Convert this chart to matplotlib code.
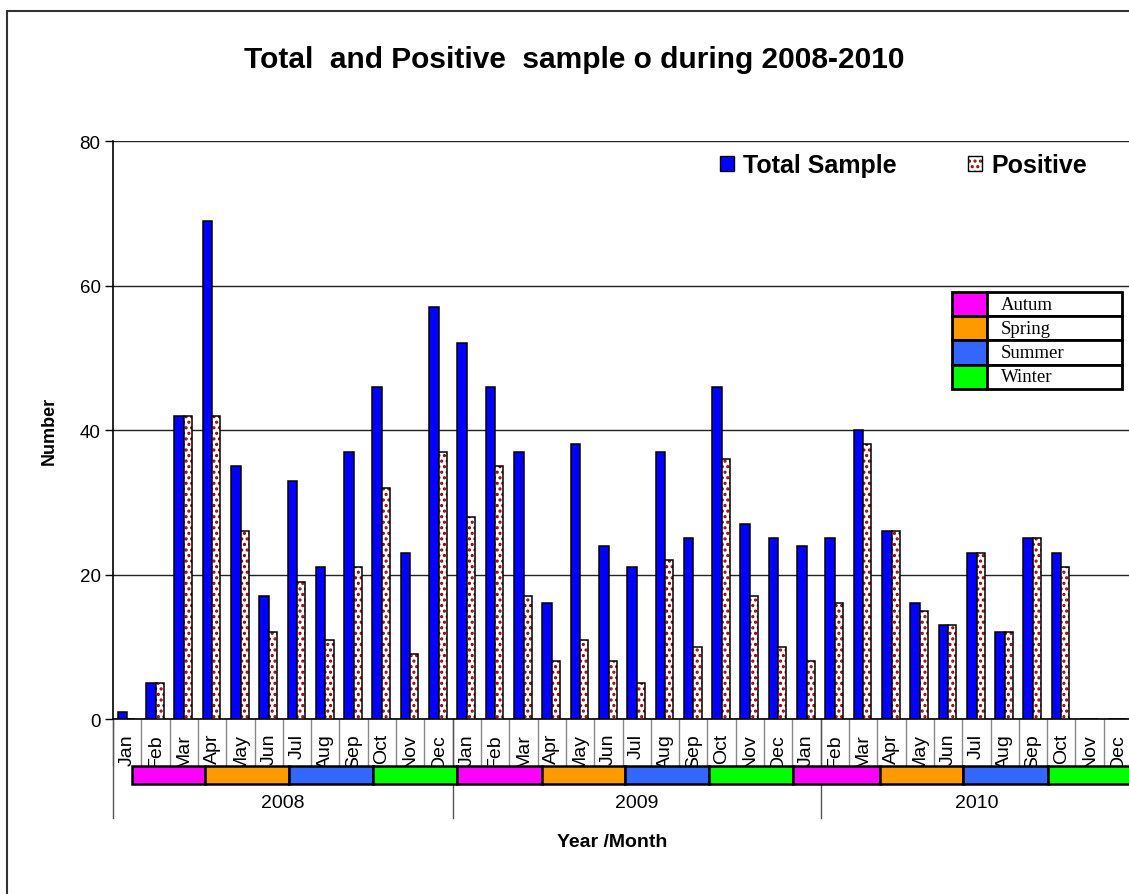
import matplotlib
matplotlib.use("Agg")
from matplotlib import pyplot as plt
from matplotlib.patches import Rectangle, Patch
from matplotlib.legend_handler import HandlerTuple
from matplotlib.transforms import blended_transform_factory

# data
years = ["2008", "2009", "2010"]
months = ["Jan", "Feb", "Mar", "Apr", "May", "Jun",
          "Jul", "Aug", "Sep", "Oct", "Nov", "Dec"]
total_sample = [1, 5, 42, 69, 35, 17, 33, 21, 37, 46, 23, 57,
                52, 46, 37, 16, 38, 24, 21, 37, 25, 46, 27, 25,
                24, 25, 40, 26, 16, 13, 23, 12, 25, 23, 0, 0]
positive = [0, 5, 42, 42, 26, 12, 19, 11, 21, 32, 9, 37,
            28, 35, 17, 8, 11, 8, 5, 22, 10, 36, 17, 10,
            8, 16, 38, 26, 15, 13, 23, 12, 25, 21, 0, 0]
season_names = ["Autum", "Spring", "Summer", "Winter"]
season_colors = ["#FF00FF", "#FF9900", "#3366FF", "#00FF00"]
# season blocks under the months (as drawn in the original, in month units)
season_seq = [0, 1, 2, 3] * 3
season_edges = [0.16, 2.75, 5.72, 8.67, 11.65, 14.65, 17.59, 20.55,
                23.52, 26.6, 29.52, 32.53, 35.6]
year_edges = [-0.5, 11.5, 24.5, 35.5]

plt.rcParams["font.family"] = ["Liberation Sans", "DejaVu Sans"]
plt.rcParams["hatch.linewidth"] = 1.5

fig = plt.figure(figsize=(11.29, 8.95), dpi=100)
ax = fig.add_axes([0.1001, 0.1955, 0.9026, 0.6458])

x = list(range(len(total_sample)))
ax.bar([i - 0.335 for i in x], total_sample, width=0.34, align="edge",
       color="#0000FF", edgecolor="black", linewidth=1.1, zorder=3)
ax.bar([i + 0.005 for i in x], positive, width=0.285, align="edge",
       color="white", edgecolor="#990000", hatch="...", linewidth=0, zorder=3)
ax.bar([i + 0.005 for i in x], positive, width=0.285, align="edge",
       fill=False, edgecolor="black", linewidth=1.1, zorder=4)

ax.set_xlim(-0.5, 35.5)
ax.set_ylim(0, 80)
ax.set_yticks([0, 20, 40, 60, 80])
ax.tick_params(axis="y", direction="out", length=6, width=1, labelsize=13.5, pad=3)
ax.yaxis.grid(True, color="#222222", linewidth=1)
ax.set_axisbelow(True)
for s in ["top", "right"]:
    ax.spines[s].set_visible(False)
ax.spines["left"].set_linewidth(1.2)
ax.spines["bottom"].set_linewidth(1.2)

# month labels and cell separators
ax.set_xticks(x)
ax.set_xticklabels(months * 3, rotation=90, fontsize=14)
ax.tick_params(axis="x", which="major", length=0, pad=10)
ax.set_xticks([b - 0.5 for b in range(37)], minor=True)
ax.tick_params(axis="x", which="minor", direction="out", length=34,
               width=1, color="#888888")

bt = blended_transform_factory(ax.transData, ax.transAxes)

# season strip
for k in range(len(season_seq)):
    r = Rectangle((season_edges[k], -0.1125), season_edges[k + 1] - season_edges[k], 0.031,
                  transform=bt, facecolor=season_colors[season_seq[k]],
                  edgecolor="black", linewidth=1.8, clip_on=False, zorder=6)
    ax.add_patch(r)

# year separators and labels
for e in year_edges[:-1]:
    ax.plot([e, e], [0, -0.171], transform=bt, color="#555555", lw=1,
            clip_on=False, zorder=2)
for k, yr in enumerate(years):
    ax.text((year_edges[k] + year_edges[k + 1]) / 2, -0.1436, yr, transform=bt,
            ha="center", va="center", fontsize=14)

ax.set_ylabel("Number", fontsize=13, fontweight="bold")
ax.yaxis.set_label_coords(-0.054, 0.5)
ax.set_xlabel("Year /Month", fontsize=14, fontweight="bold")
ax.xaxis.set_label_coords(0.4897, -0.197)

fig.text(0.509, 0.933, "Total  and Positive  sample o during 2008-2010",
         ha="center", va="center", fontsize=21.5, fontweight="bold")

# series legend
h_total = Patch(facecolor="#0000FF", edgecolor="black", linewidth=1)
h_pos = (Patch(facecolor="white", edgecolor="#990000", hatch="...", linewidth=0),
         Patch(fill=False, edgecolor="black", linewidth=1))
ax.legend([h_total, h_pos], ["Total Sample", "Positive"], ncol=2,
          handler_map={tuple: HandlerTuple(ndivide=1)},
          loc="center left", bbox_to_anchor=(0.596, 0.958), frameon=False,
          prop={"weight": "bold", "size": 18}, handlelength=0.56, handleheight=0.56,
          handletextpad=0.35, columnspacing=2.87, borderpad=0, borderaxespad=0)

# season legend as a small table
tab = ax.table(cellText=[["", n] for n in season_names],
               cellColours=[[c, "white"] for c in season_colors],
               colWidths=[0.21, 0.79], cellLoc="left",
               bbox=[0.823, 0.571, 0.167, 0.168])
tab.auto_set_font_size(False)
for (r, c), cell in tab.get_celld().items():
    cell.set_linewidth(2)
    cell.get_text().set_fontfamily(["Liberation Serif", "DejaVu Serif"])
    cell.get_text().set_fontsize(13.5)
tab.set_zorder(7)

# outer chart frame
fig.add_artist(Rectangle((0.0065, -0.2), 1.2, 1.187, transform=fig.transFigure,
                         fill=False, edgecolor="#333333", linewidth=1.5))

plt.savefig("out.png", dpi=100)
